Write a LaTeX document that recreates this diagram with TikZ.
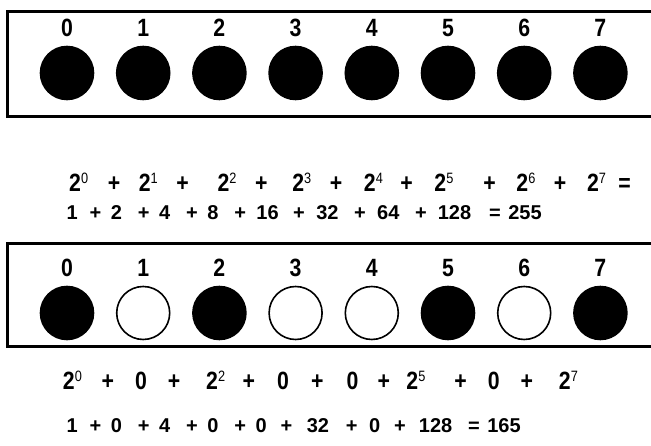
\documentclass[tikz,border=0pt]{standalone}
\usepackage{fontspec}
\setmainfont{Liberation Sans}
\newfontfamily\narrowsans[FakeStretch=0.85]{Liberation Sans}
\usetikzlibrary{positioning}

% small raised power, set in a lighter weight
\newcommand{\pw}[1]{\raisebox{8pt}{\fontsize{15}{15}\selectfont\mdseries #1}}

\tikzset{
    bit/.style={circle, draw, line width=1.6pt, minimum size=53pt, inner sep=0pt, outer sep=0pt},
    on/.style={bit, fill=black},
    off/.style={bit, fill=white},
    idx/.style={font=\fontsize{25}{25}\narrowsans\bfseries, inner sep=0pt},
    term/.style={font=\fontsize{25}{25}\narrowsans\bfseries, inner sep=0pt, anchor=base},
    val/.style={font=\fontsize{20}{20}\selectfont\bfseries, inner sep=0pt, anchor=base},
    frame/.style={line width=3pt}
}

\begin{document}
\begin{tikzpicture}[x=1pt, y=1pt]
    \useasboundingbox (0,0) rectangle (651,-446);
    \clip (0,0) rectangle (651,-446);

    % Register 1: every bit set
    \begin{scope}
        \draw[frame] (7,-11.5) rectangle (670,-116.5);
        \foreach \i in {0,...,7} {
            \node[on] (t\i) at ({67+76.2*\i},-73) {};
            \node[idx, above=9.5pt of t\i] (tl\i) {\i};
        }
        \foreach \x/\t [count=\k] in {78.7/2\pw{0}, 114/+, 148.3/2\pw{1}, 182.5/+, 227.1/2\pw{2}, 261.3/+,
                301.8/2\pw{3}, 336/+, 373.4/2\pw{4}, 406.6/+, 443.9/2\pw{5}, 489.6/+, 525.9/2\pw{6},
                560.1/+, 596.5/2\pw{7}, 624.5/=}
            \node[term] (tp\k) at (\x,-191.5) {\t};
        \foreach \x/\t [count=\k] in {72.3/1, 95.4/+, 116.4/2, 143.7/+, 164.7/4, 192/+, 213/8, 240.3/+,
                267.6/16, 299/+, 327.4/32, 360/+, 388.3/64, 420.9/+, 454.5/128, 495/=, 525/255}
            \node[val] (tv\k) at (\x,-220) {\t};
    \end{scope}

    % Register 2: bits 0, 2, 5 and 7 set
    \begin{scope}
        \draw[frame] (7,-243.5) rectangle (670,-347);
        \foreach \i/\s in {0/on, 1/off, 2/on, 3/off, 4/off, 5/on, 6/off, 7/on} {
            \node[\s] (b\i) at ({67+76.2*\i},-313) {};
            \node[idx, above=9.5pt of b\i] (bl\i) {\i};
        }
        \foreach \x/\t [count=\k] in {72.4/2\pw{0}, 107.8/+, 141/0, 174.2/+, 215.7/2\pw{2}, 248.9/+,
                283.1/0, 317.4/+, 352.6/0, 383.8/+, 415.9/2\pw{5}, 460.5/+, 493.7/0, 526.9/+, 568.4/2\pw{7}}
            \node[term] (bp\k) at (\x,-389.5) {\t};
        \foreach \x/\t [count=\k] in {72.3/1, 95.4/+, 116.4/0, 143.7/+, 164.7/4, 192/+, 213/0, 240.3/+,
                261.3/0, 286.5/+, 318/32, 351.6/+, 374.7/0, 399.9/+, 435.6/128, 474/=, 504/165}
            \node[val] (bv\k) at (\x,-432) {\t};
    \end{scope}
\end{tikzpicture}
\end{document}
